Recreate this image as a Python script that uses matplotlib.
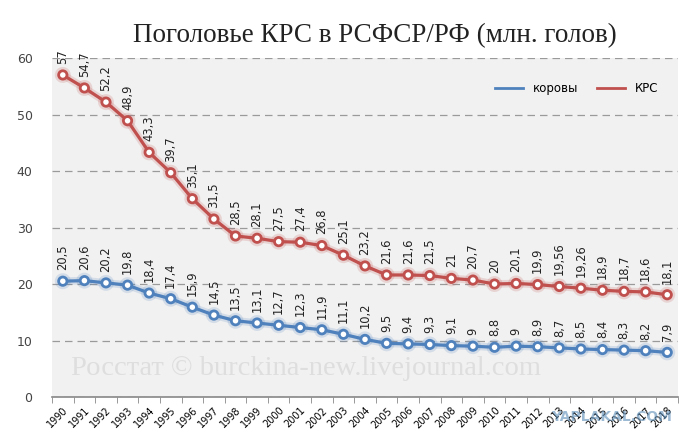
import numpy as np
import matplotlib
matplotlib.use('Agg')
import matplotlib.pyplot as plt
import matplotlib.patheffects as pe

years = [str(y) for y in range(1990, 2019)]
korovy = [20.5, 20.6, 20.2, 19.8, 18.4, 17.4, 15.9, 14.5, 13.5, 13.1, 12.7, 12.3, 11.9, 11.1,
          10.2, 9.5, 9.4, 9.3, 9.1, 9, 8.8, 9, 8.9, 8.7, 8.5, 8.4, 8.3, 8.2, 7.9]
krs = [57, 54.7, 52.2, 48.9, 43.3, 39.7, 35.1, 31.5, 28.5, 28.1, 27.5, 27.4, 26.8, 25.1,
       23.2, 21.6, 21.6, 21.5, 21, 20.7, 20, 20.1, 19.9, 19.56, 19.26, 18.9, 18.7, 18.6, 18.1]

blue = '#4f81bd'
red = '#c0504d'

fig = plt.figure(figsize=(7, 4.48), dpi=100)
fig.patch.set_facecolor('white')
ax = fig.add_axes([0.0743, 0.1138, 0.8943, 0.7567])
ax.set_facecolor('#f1f1f1')

x = np.arange(len(years))

def fmt(v):
    s = ('%g' % v).replace('.', ',')
    return s

for vals, col, name in [(korovy, blue, 'коровы'), (krs, red, 'КРС')]:
    glow = [pe.Stroke(linewidth=5.5, foreground=col, alpha=0.18), pe.Normal()]
    ax.plot(x, vals, color=col, lw=2.3, marker='o', ms=6, mfc='white', mec=col, mew=2,
            label=name, path_effects=glow, zorder=3)
    for xi, v in zip(x, vals):
        ax.annotate(fmt(v), (xi, v), xytext=(0, 8), textcoords='offset points',
                    rotation=90, ha='center', va='bottom', fontsize=8.3, color='#222222')

ax.set_xlim(-0.5, len(years) - 0.5)
ax.set_ylim(0, 60)
ax.set_yticks(range(0, 61, 10))
ax.yaxis.grid(True, linestyle=(0, (6, 4)), color='#9a9a9a', lw=0.9)
ax.set_axisbelow(True)
ax.tick_params(axis='y', length=0, labelsize=9, labelcolor='#444444', pad=14)

ax.set_xticks(x)
ax.set_xticklabels(years, rotation=45, fontsize=7, ha='right', rotation_mode='anchor')
ax.set_xticks(np.arange(-0.5, len(years)), minor=True)
ax.tick_params(axis='x', which='major', length=0, pad=6)
ax.tick_params(axis='x', which='minor', length=4, color='#888888')

for s in ['top', 'right', 'left']:
    ax.spines[s].set_visible(False)
ax.spines['bottom'].set_color('#888888')
ax.spines['bottom'].set_linewidth(1.2)

leg = ax.legend(loc='upper right', bbox_to_anchor=(0.985, 0.96), ncol=2, frameon=False,
                fontsize=8.5, handlelength=2.4, columnspacing=1.6)
for h in leg.get_lines():
    h.set_marker('')
    h.set_path_effects([])
    h.set_linewidth(2)

fig.text(0.535, 0.92, 'Поголовье КРС в РСФСР/РФ (млн. голов)', ha='center', va='center',
         fontsize=19.5, family='Liberation Serif', color='#222222')

ax.text(0.03, 0.065, 'Росстат © burckina-new.livejournal.com', transform=ax.transAxes,
        fontsize=20.5, family='Liberation Serif', color='#dedede', zorder=1)
ax.text(0.99, -0.06, 'YAPLAKAL.COM', transform=ax.transAxes, ha='right', va='center',
        fontsize=10, fontweight='bold', color='#5b8db8', alpha=0.6, zorder=5, clip_on=False)

fig.savefig('out.png', dpi=100)
